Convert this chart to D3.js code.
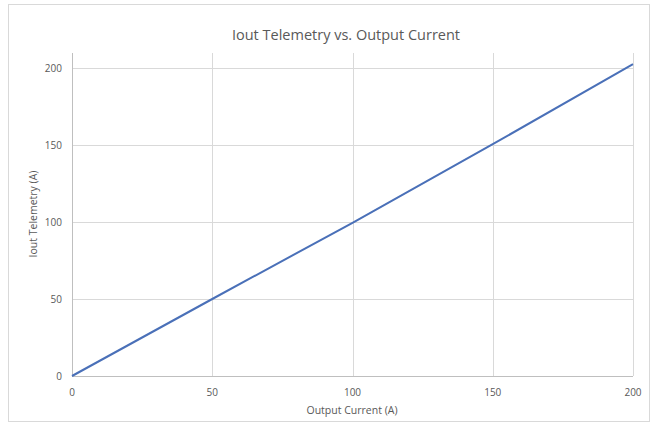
<!DOCTYPE html>
<html><head><meta charset="utf-8">
<script src="https://cdn.jsdelivr.net/npm/d3@7"></script>
<style>body{margin:0;background:#fff}svg{display:block}text{font-family:"Open Sans",sans-serif}</style>
</head><body>
<script>
const outputCurrent = [0, 50, 100, 150, 200];
const ioutTelemetry = [0, 50, 99.5, 150.5, 202.5];
const xTicks = [0, 50, 100, 150, 200];
const yTicks = [0, 50, 100, 150, 200];

const W = 652, H = 425;
const svg = d3.select("body").append("svg").attr("width", W).attr("height", H);
svg.append("rect").attr("x", 8.5).attr("y", 4.5).attr("width", 641).attr("height", 417)
  .attr("fill", "#fff").attr("stroke", "#d9d9d9");

const x = d3.scaleLinear().domain([0, 200]).range([72, 633]);
const y = d3.scaleLinear().domain([0, 200]).range([376, 68]);
const topY = 53;

const g = svg.append("g");
g.selectAll(".hg").data(yTicks.filter(d => d > 0)).enter().append("line")
  .attr("x1", x(0)).attr("x2", x(200)).attr("y1", d => Math.round(y(d)) + 0.5).attr("y2", d => Math.round(y(d)) + 0.5)
  .attr("stroke", "#d9d9d9");
g.selectAll(".vg").data(xTicks.filter(d => d > 0)).enter().append("line")
  .attr("x1", d => Math.round(x(d)) + 0.5).attr("x2", d => Math.round(x(d)) + 0.5).attr("y1", topY).attr("y2", y(0))
  .attr("stroke", "#d9d9d9");
g.append("line").attr("x1", x(0) + 0.5).attr("x2", x(0) + 0.5).attr("y1", topY).attr("y2", y(0)).attr("stroke", "#bfbfbf");
g.append("line").attr("x1", x(0)).attr("x2", x(200)).attr("y1", y(0) + 0.5).attr("y2", y(0) + 0.5).attr("stroke", "#bfbfbf");

g.selectAll(".yl").data(yTicks).enter().append("text")
  .attr("x", 62).attr("y", d => y(d)).attr("dy", "0.35em").attr("text-anchor", "end")
  .attr("font-size", 10).attr("fill", "#595959").text(d => d);
g.selectAll(".xl").data(xTicks).enter().append("text")
  .attr("x", d => x(d)).attr("y", 392).attr("dy", "0.35em").attr("text-anchor", "middle")
  .attr("font-size", 10).attr("fill", "#595959").text(d => d);

const data = outputCurrent.map((d, i) => [d, ioutTelemetry[i]]);
svg.append("path").datum(data)
  .attr("d", d3.line().x(d => x(d[0])).y(d => y(d[1])))
  .attr("fill", "none").attr("stroke", "#4a70b8").attr("stroke-width", 2);

svg.append("text").attr("x", 346).attr("y", 35).attr("dy", "0.35em").attr("text-anchor", "middle")
  .attr("font-size", 14.5).attr("fill", "#595959").text("Iout Telemetry vs. Output Current");
svg.append("text").attr("x", 352).attr("y", 410).attr("dy", "0.35em").attr("text-anchor", "middle")
  .attr("font-size", 10.5).attr("fill", "#595959").text("Output Current (A)");
svg.append("text").attr("transform", "translate(33,214) rotate(-90)").attr("dy", "0.35em").attr("text-anchor", "middle")
  .attr("font-size", 10.5).attr("fill", "#595959").text("Iout Telemetry (A)");
</script>
</body></html>
